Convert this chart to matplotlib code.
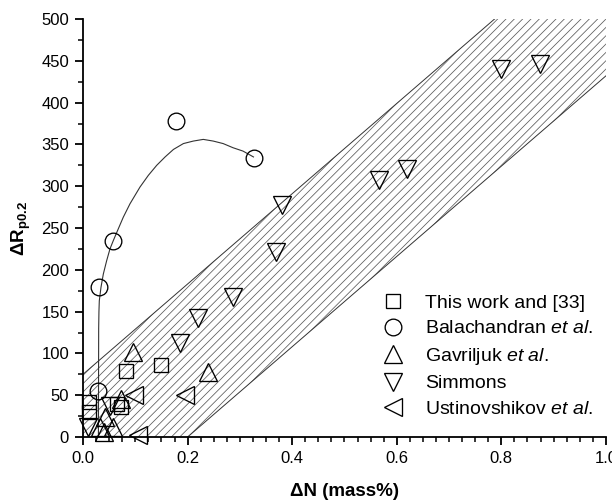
import matplotlib
matplotlib.use("Agg")
import matplotlib.pyplot as plt
from matplotlib.ticker import MultipleLocator

plt.rcParams['font.family'] = ['Liberation Sans', 'DejaVu Sans']
plt.rcParams['mathtext.fontset'] = 'custom'
plt.rcParams['mathtext.rm'] = 'Liberation Sans'
plt.rcParams['mathtext.it'] = 'Liberation Sans:italic'
plt.rcParams['mathtext.bf'] = 'Liberation Sans:bold'
plt.rcParams['hatch.linewidth'] = 0.55

# data
this_work_x = [0.012, 0.012, 0.065, 0.072, 0.082, 0.150]
this_work_y = [42, 30, 40, 36, 79, 86]

bala_x = [0.029, 0.030, 0.058, 0.177, 0.327]
bala_y = [55, 180, 234, 378, 334]

gav_x = [0.032, 0.041, 0.043, 0.058, 0.072, 0.096, 0.240]
gav_y = [12, 6, 24, 12, 45, 102, 78]

simmons_x = [0.010, 0.051, 0.185, 0.220, 0.287, 0.370, 0.381, 0.566, 0.620, 0.799, 0.874]
simmons_y = [12, 37, 113, 142, 167, 221, 277, 307, 321, 440, 446]

ust_x = [0.097, 0.195, 0.105]
ust_y = [50, 50, 2]

# fitted curve through the Balachandran points (traced)
curve_x = [0.0295, 0.0298, 0.030, 0.0305, 0.0312, 0.0344, 0.0389, 0.0453, 0.0516, 0.058,
           0.0675, 0.0771, 0.0899, 0.109, 0.125, 0.141, 0.157, 0.173, 0.192, 0.211,
           0.230, 0.249, 0.268, 0.287, 0.306, 0.326]
curve_y = [0, 80, 130, 150, 163, 179, 195, 211, 225, 235,
           249, 263, 279, 299, 313, 325, 335, 344, 351, 354,
           356, 354, 351, 346, 342, 335]

# scatter band
band_x = [0.0, 0.2, 1.0]
band_upper = [75, 183, 615]
band_lower = [-108, 0, 432]

fig = plt.figure(figsize=(6.12, 5.04), dpi=100)
ax = fig.add_axes([0.1356, 0.1329, 0.8545, 0.8294])

ax.fill_between(band_x, band_lower, band_upper, facecolor='none', edgecolor='#5a5a5a',
                hatch='////', linewidth=0)
ax.plot(band_x, band_upper, color='#333333', lw=0.7)
ax.plot(band_x, band_lower, color='#333333', lw=0.7)

ax.plot(curve_x, curve_y, color='#333333', lw=0.8)

mk = dict(ls='none', mfc='none', mec='black', mew=0.95, clip_on=False)
ax.plot(this_work_x, this_work_y, marker='s', ms=10, label='This work and [33]', **mk)
ax.plot(bala_x, bala_y, marker='o', ms=12, label='Balachandran $\\it{et\\ al}$.', **mk)
ax.plot(gav_x, gav_y, marker='^', ms=12.5, label='Gavriljuk $\\it{et\\ al}$.', **mk)
ax.plot(simmons_x, simmons_y, marker='v', ms=12.5, label='Simmons', **mk)
ax.plot(ust_x, ust_y, marker='<', ms=12.5, label='Ustinovshikov $\\it{et\\ al}$.', **mk)

ax.set_xlim(0, 1.0)
ax.set_ylim(0, 500)
ax.spines['top'].set_visible(False)
ax.spines['right'].set_visible(False)
ax.spines['left'].set_linewidth(1.3)
ax.spines['bottom'].set_linewidth(1.3)

ax.xaxis.set_major_locator(MultipleLocator(0.2))
ax.xaxis.set_minor_locator(MultipleLocator(0.025))
ax.yaxis.set_major_locator(MultipleLocator(50))
ax.yaxis.set_minor_locator(MultipleLocator(25))
ax.xaxis.set_major_formatter(plt.FuncFormatter(lambda v, p: f"{v:.1f}"))
ax.tick_params(which='major', length=6, width=1.3, labelsize=12, pad=4)
ax.tick_params(which='minor', length=3.5, width=1.1)

ax.set_xlabel('ΔN (mass%)', fontsize=13.5, fontweight='bold', labelpad=12)
ax.set_ylabel('ΔR$_\\mathbf{p0.2}$', fontsize=13.5, fontweight='bold', labelpad=6)

ax.legend(loc='lower left', bbox_to_anchor=(0.574, 0.045), frameon=False, fontsize=14,
          handletextpad=1.15, labelspacing=0.42, handlelength=1.0, borderpad=0,
          borderaxespad=0, markerscale=1.0)

fig.savefig('out.png', dpi=100)
